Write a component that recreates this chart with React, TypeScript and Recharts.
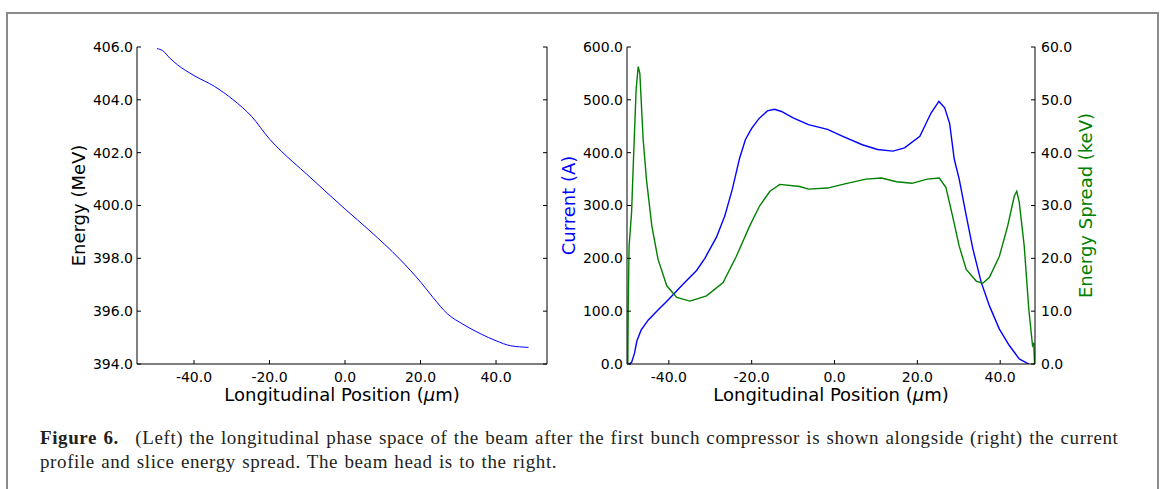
import React from 'react';
import { LineChart, Line, XAxis, YAxis } from 'recharts';

// left panel: longitudinal phase space
const phasePos = [-49.8, -48.3, -46.4, -44.4, -40, -34.6, -29.7, -24.8, -19.9, -16.9, -10.1, 0.05, 6.6, 14.5, 20.1, 23.3, 27.2, 31.2, 36.1, 40, 43.9, 48.6];
const phaseEnergy = [405.94, 405.86, 405.58, 405.33, 404.92, 404.51, 404.01, 403.38, 402.5, 402.06, 401.18, 399.86, 399.04, 397.97, 397.09, 396.52, 395.89, 395.51, 395.13, 394.88, 394.69, 394.63];

// right panel: current profile (A)
const currentPos = [-49.7, -49.0, -48.3, -47.7, -46.7, -45.0, -42.5, -40.3, -36.7, -33.3, -31.3, -28.5, -26.5, -24.7, -22.9, -21.5, -20.0, -18.3, -16.2, -14.5, -12.8, -10, -6.3, -1.7, 2, 6.7, 10.4, 14.1, 16.9, 20.6, 23.3, 25.2, 26.6, 27.8, 28.9, 30.1, 31.8, 33.4, 35.4, 37.4, 39.8, 42.2, 44.6, 46.9];
const currentAmps = [0, 3, 20, 44, 64, 83, 103, 120, 150, 177, 200, 240, 280, 330, 390, 425, 446, 464, 479, 482, 478, 466, 453, 444, 431, 415, 406, 403, 409, 431, 475, 497, 485, 455, 388, 350, 281, 218, 155, 110, 66, 35, 9.5, 0];

// right panel: slice energy spread (keV)
const spreadPos = [-49.9, -49.8, -49.6, -49.0, -48.6, -47.9, -47.4, -47.0, -46.2, -45.4, -44.1, -42.6, -40.5, -38.1, -34.9, -30.9, -26.9, -23.7, -20.5, -18.1, -15.6, -13.2, -8.4, -6.3, -1.7, 3, 7.6, 11.3, 15, 18.7, 22.4, 25.3, 26.9, 28.5, 30.1, 31.8, 34.2, 35.8, 37.4, 39.8, 41.8, 43.4, 44.0, 44.6, 45.8, 46.9, 47.8, 48.1, 48.3];
const spreadKeV = [0.2, 11, 22.3, 28.6, 37.4, 51.9, 56.3, 55, 42.5, 34.9, 26.1, 19.8, 14.8, 12.6, 11.9, 12.9, 15.4, 20.4, 26.1, 29.9, 32.7, 34, 33.6, 33.1, 33.3, 34.2, 35, 35.2, 34.5, 34.2, 35, 35.2, 33.4, 28, 22.3, 17.9, 15.7, 15.3, 16.4, 20.4, 26.1, 31.8, 32.7, 30.6, 22.3, 10.4, 3.5, 4, 0];

const posTicks = [-40, -20, 0, 20, 40];
const energyTicks = [394, 396, 398, 400, 402, 404, 406];
const currentTicks = [0, 100, 200, 300, 400, 500, 600];
const spreadTicks = [0, 10, 20, 30, 40, 50, 60];

const phaseData = phasePos.map((x, i) => ({ x, y: phaseEnergy[i] }));
const currentData = currentPos.map((x, i) => ({ x, y: currentAmps[i] }));
const spreadData = spreadPos.map((x, i) => ({ x, y: spreadKeV[i] }));

const SANS = '"DejaVu Sans", sans-serif';
const tickStyle = { fill: '#000', fontSize: 14, fontFamily: SANS };
const fmt = (v: number) => v.toFixed(1);
const blank = () => '';

const XTitle = (props: any) => {
  const vb = props.viewBox || {};
  return (
    <text x={vb.x + vb.width / 2} y={vb.y + 37} textAnchor="middle" fontSize={18} fontFamily={SANS} fill="#000">
      Longitudinal Position (<tspan fontStyle="italic">μ</tspan>m)
    </text>
  );
};

const yTitle = (text: string, color: string, dx: number) => (props: any) => {
  const vb = props.viewBox || {};
  const cx = vb.x + dx;
  const cy = vb.y + vb.height / 2;
  return (
    <text x={cx} y={cy} transform={`rotate(-90, ${cx}, ${cy})`} textAnchor="middle" dominantBaseline="central" fontSize={18} fontFamily={SANS} fill={color}>
      {text}
    </text>
  );
};

function PhaseSpace() {
  const dom: [number, number] = [-55.1, 53.5];
  return (
    <LineChart width={580} height={420} margin={{ top: 47, right: 0, bottom: 0, left: 0 }}>
      <XAxis xAxisId="b" type="number" dataKey="x" domain={dom} ticks={posTicks} interval={0} allowDataOverflow
        tickFormatter={fmt} tick={tickStyle} tickSize={-4} tickMargin={12} height={56} stroke="#000"
        label={<XTitle />} />
      <XAxis xAxisId="t" orientation="top" type="number" dataKey="x" domain={dom} ticks={posTicks} interval={0} allowDataOverflow
        tickFormatter={blank} tickSize={-4} height={0} stroke="#000" />
      <YAxis yAxisId="l" type="number" domain={[394, 406]} ticks={energyTicks} interval={0} allowDataOverflow
        tickFormatter={fmt} tick={tickStyle} tickSize={-4} tickMargin={8} width={137} stroke="#000"
        label={{ content: yTitle('Energy (MeV)', '#000', 78) }} />
      <YAxis yAxisId="r" orientation="right" type="number" domain={[394, 406]} ticks={energyTicks} interval={0} allowDataOverflow
        tickFormatter={blank} tickSize={-4} width={33} stroke="#000" />
      <Line xAxisId="b" yAxisId="l" data={phaseData} dataKey="y" type="monotone" stroke="#0000ff" strokeWidth={1}
        dot={false} isAnimationActive={false} />
    </LineChart>
  );
}

function CurrentProfile() {
  const dom: [number, number] = [-50.1, 48.4];
  return (
    <LineChart width={620} height={420} margin={{ top: 47, right: 0, bottom: 0, left: 0 }}>
      <XAxis xAxisId="b" type="number" dataKey="x" domain={dom} ticks={posTicks} interval={0} allowDataOverflow
        tickFormatter={fmt} tick={tickStyle} tickSize={-4} tickMargin={12} height={56} stroke="#000"
        label={<XTitle />} />
      <XAxis xAxisId="t" orientation="top" type="number" dataKey="x" domain={dom} ticks={posTicks} interval={0} allowDataOverflow
        tickFormatter={blank} tickSize={-4} height={0} stroke="#000" />
      <YAxis yAxisId="cur" type="number" domain={[0, 600]} ticks={currentTicks} interval={0} allowDataOverflow
        tickFormatter={fmt} tick={tickStyle} tickSize={-4} tickMargin={8} width={87} stroke="#000"
        label={{ content: yTitle('Current (A)', '#0000ff', 28) }} />
      <YAxis yAxisId="spr" orientation="right" type="number" domain={[0, 60]} ticks={spreadTicks} interval={0} allowDataOverflow
        tickFormatter={fmt} tick={tickStyle} tickSize={-4} tickMargin={10} width={125} stroke="#000"
        label={{ content: yTitle('Energy Spread (keV)', '#008000', 50) }} />
      <Line xAxisId="b" yAxisId="cur" data={currentData} dataKey="y" type="linear" stroke="#0000ff" strokeWidth={1.4}
        dot={false} isAnimationActive={false} />
      <Line xAxisId="b" yAxisId="spr" data={spreadData} dataKey="y" type="linear" stroke="#008000" strokeWidth={1.4}
        dot={false} isAnimationActive={false} />
    </LineChart>
  );
}

export default function App() {
  return (
    <div style={{ position: 'absolute', left: 0, top: 0, width: 1163, height: 489, overflow: 'hidden', background: '#fff' }}>
      <div style={{ position: 'absolute', left: 6, top: 12, width: 1153, height: 520, border: '2px solid #8a8a8a', boxSizing: 'border-box' }} />
      <div style={{ position: 'absolute', left: 0, top: 0 }}>
        <PhaseSpace />
      </div>
      <div style={{ position: 'absolute', left: 540, top: 0 }}>
        <CurrentProfile />
      </div>
      <div style={{ position: 'absolute', left: 40, top: 426, fontFamily: '"Liberation Serif", serif', fontSize: 19, letterSpacing: 0.6, wordSpacing: 1, lineHeight: '24px', color: '#231f20', whiteSpace: 'nowrap' }}>
        <div><b>Figure 6.</b>{'\u2002 '}(Left) the longitudinal phase space of the beam after the first bunch compressor is shown alongside (right) the current</div>
        <div>profile and slice energy spread. The beam head is to the right.</div>
      </div>
    </div>
  );
}
